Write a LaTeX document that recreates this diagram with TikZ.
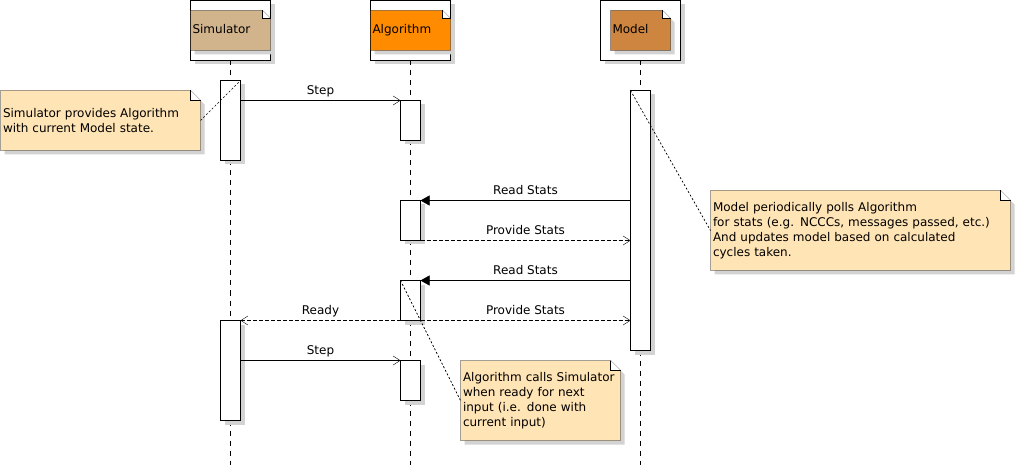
\documentclass[tikz,border=0pt]{standalone}
\usepackage{fontspec}
\setmainfont{DejaVu Sans}
\usetikzlibrary{arrows.meta,shadows,calc}
\pgfdeclarelayer{bg}
\pgfsetlayers{bg,main}
\definecolor{simc}{HTML}{D2B48C}
\definecolor{algc}{HTML}{FF8C00}
\definecolor{modc}{HTML}{CD853F}
\definecolor{notec}{HTML}{FFE4B5}
\definecolor{shadowc}{HTML}{D3D3D3}
\newcommand\rsfold[3]{%
  \fill[shadowc] ($(#1.north west)+(4,4)$) -- ($(#1.north east)+(4-#3,4)$) -- ($(#1.north east)+(4,4+#3)$) -- ($(#1.south east)+(4,4)$) -- ($(#1.south west)+(4,4)$) -- cycle;
  \filldraw[fill=#2] (#1.north west) -- ($(#1.north east)+(-#3,0)$) -- ($(#1.north east)+(0,#3)$) -- (#1.south east) -- (#1.south west) -- cycle;
  \filldraw[fill=white] ($(#1.north east)+(-#3,0)$) -- ($(#1.north east)+(-#3,#3)$) -- ($(#1.north east)+(0,#3)$);
}
\begin{document}
\begin{tikzpicture}[x=1pt,y=-1pt,line width=1pt,font=\fontsize{12}{15}\selectfont,
  shad/.style={drop shadow={fill=shadowc,opacity=1,shadow xshift=4pt,shadow yshift=-4pt}},
  headbox/.style={draw,fill=white,minimum height=60pt,inner sep=0pt,outer sep=0pt,shad},
  headlbl/.style={minimum height=40pt,inner xsep=2pt,inner ysep=0pt,outer sep=0pt,align=left,text height=9pt,text depth=2pt},
  notebox/.style={anchor=north west,inner xsep=2.5pt,inner ysep=0pt,outer sep=0pt,align=left},
  actbox/.style={draw,fill=white,minimum width=20pt,inner sep=0pt,outer sep=0pt,shad},
  life/.style={dash pattern=on 5pt off 5pt},
  msg/.style={-{Straight Barb[length=7pt,width=9pt]}},
  reply/.style={msg,dash pattern=on 4pt off 2pt},
  call/.style={-{Triangle[length=9pt,width=10pt]}},
  mlabel/.style={anchor=base,inner sep=0pt},
  nline/.style={line width=0.7pt,dash pattern=on 2pt off 2pt,black}]
\useasboundingbox (0,0) rectangle (1015,465);
\begin{scope}[shift={(0.5,0.5)}]
% header labels
\node[headlbl,minimum width=80pt,text width=76pt] (hsl) at (230,30) {Simulator};
\node[headlbl,minimum width=80pt,text width=76pt] (hal) at (410,30) {Algorithm};
\node[headlbl,minimum width=60pt,text width=56pt] (hml) at (640,30) {Model};
% notes text
\node[notebox,minimum width=200pt,minimum height=60pt,text width=195pt] (n1) at (0,90)
  {Simulator provides Algorithm\\with current Model state.};
\node[notebox,minimum width=300pt,minimum height=80pt,text width=295pt] (n2) at (710,190)
  {Model periodically polls Algorithm\\for stats (e.g. NCCCs, messages passed, etc.)\\And updates model based on calculated\\cycles taken.};
\node[notebox,minimum width=160pt,minimum height=80pt,text width=155pt] (n3) at (460,360)
  {Algorithm calls Simulator\\when ready for next\\input (i.e. done with\\current input)};
\begin{pgfonlayer}{bg}
  \node[headbox,minimum width=80pt] (hs) at (230,30) {};
  \node[headbox,minimum width=80pt] (ha) at (410,30) {};
  \node[headbox,minimum width=80pt] (hm) at (640,30) {};
  \rsfold{hsl}{simc}{8}
  \rsfold{hal}{algc}{8}
  \rsfold{hml}{modc}{8}
  \rsfold{n1}{notec}{10}
  \rsfold{n2}{notec}{10}
  \rsfold{n3}{notec}{10}
\end{pgfonlayer}
% lifelines
\coordinate (sb) at (230,465);
\coordinate (ab) at (410,465);
\coordinate (mb) at (640,465);
\draw[life] (hs.south) -- (sb);
\draw[life] (ha.south) -- (ab);
\draw[life] (hm.south) -- (mb);
% activations
\node[actbox,minimum height=80pt] (sa1) at (230,120) {};
\node[actbox,minimum height=100pt] (sa2) at (230,370) {};
\node[actbox,minimum height=40pt] (aa1) at (410,120) {};
\node[actbox,minimum height=40pt] (aa2) at (410,220) {};
\node[actbox,minimum height=40pt] (aa3) at (410,300) {};
\node[actbox,minimum height=40pt] (aa4) at (410,380) {};
\node[actbox,minimum height=260pt] (ma1) at (640,220) {};
% messages
\draw[msg] (sa1.east |- aa1.north west) -- (aa1.north west);
\node[mlabel] (l1) at (320,94) {Step};
\draw[call] (ma1.west |- aa2.north east) -- (aa2.north east);
\node[mlabel] (l2) at (525,194) {Read Stats};
\draw[reply] (aa2.south east) -- (ma1.west |- aa2.south east);
\node[mlabel] (l3) at (525,234) {Provide Stats};
\draw[call] (ma1.west |- aa3.north east) -- (aa3.north east);
\node[mlabel] (l4) at (525,274) {Read Stats};
\draw[reply] (aa3.south east) -- (ma1.west |- aa3.south east);
\node[mlabel] (l5) at (525,314) {Provide Stats};
\draw[reply] (aa3.south west) -- (sa2.north east);
\node[mlabel] (l6) at (320,314) {Ready};
\draw[msg] (sa2.east |- aa4.north west) -- (aa4.north west);
\node[mlabel] (l7) at (320,354) {Step};
% note connectors
\draw[nline] (n1.east) -- (sa1.north east);
\draw[nline] (ma1.north west) -- (n2.west);
\draw[nline] (aa3.north west) -- (n3.west);
\end{scope}
\end{tikzpicture}
\end{document}
